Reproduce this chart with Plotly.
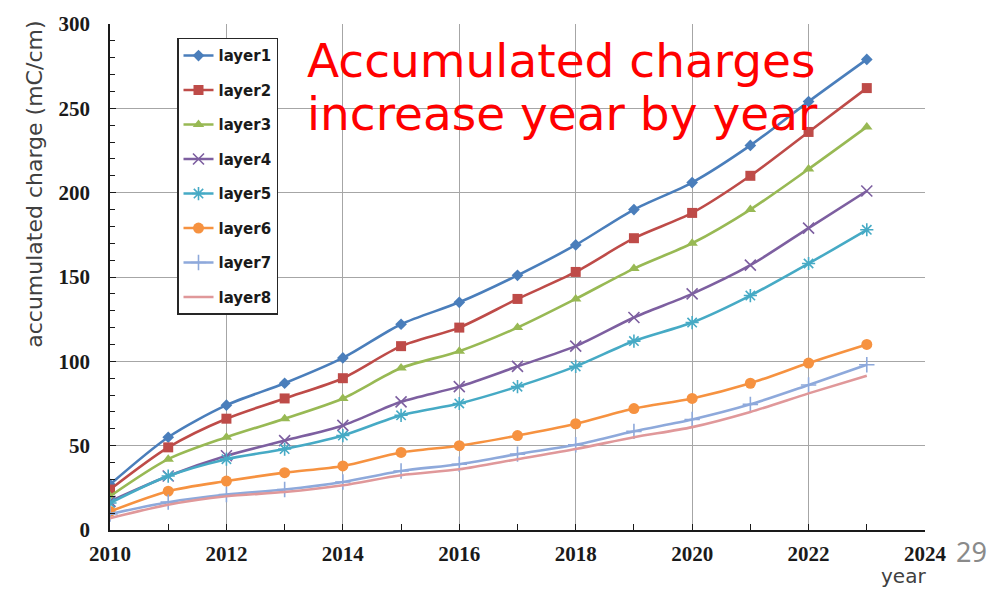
import plotly.graph_objects as go

# Accumulated charge per layer, by year
years = list(range(2010, 2024))

layer1 = [27, 55, 74, 87, 102, 122, 135, 151, 169, 190, 206, 228, 254, 279]
layer2 = [24, 49, 66, 78, 90, 109, 120, 137, 153, 173, 188, 210, 236, 262]
layer3 = [20, 42, 55, 66, 78, 96, 106, 120, 137, 155, 170, 190, 214, 239]
layer4 = [17, 32, 44, 53, 62, 76, 85, 97, 109, 126, 140, 157, 179, 201]
layer5 = [16, 32, 42, 48, 56, 68, 75, 85, 97, 112, 123, 139, 158, 178]
layer6 = [11, 23, 29, 34, 38, 46, 50, 56, 63, 72, 78, 87, 99, 110]
layer7 = [9.5, 16.5, 21, 24, 28.5, 35, 39, 45, 50.5, 58.5, 65.5, 74.5, 86, 98]
layer8 = [7, 15, 20, 22.5, 26.5, 32.5, 36, 42, 48, 55, 61, 70, 81, 91.5]

series_names = ["layer1", "layer2", "layer3", "layer4",
                "layer5", "layer6", "layer7", "layer8"]
series_values = [layer1, layer2, layer3, layer4,
                 layer5, layer6, layer7, layer8]

colors = ["#4A7EBB", "#BE4B48", "#98B954", "#7D5FA0",
          "#46AAC5", "#F69240", "#8EA9DB", "#E0989A"]
symbols = ["diamond", "square", "triangle-up", "x-thin-open",
           "asterisk-open", "circle", "cross-thin-open", None]
sizes = [9, 10, 10, 11, 11, 11, 11, 0]

x_tick_vals = list(range(2010, 2025, 2))
x_tick_text = [str(v) for v in x_tick_vals]

fig = go.Figure()
for name, vals, col, sym, sz in zip(series_names, series_values, colors, symbols, sizes):
    marker = dict(color=col, size=sz)
    if sym is not None:
        marker["symbol"] = sym
        if "open" in sym:
            marker["line"] = dict(color=col, width=1.6)
    fig.add_trace(go.Scatter(
        x=years, y=vals, name=name, legendgroup=name,
        mode="lines+markers" if sym is not None else "lines",
        line=dict(color=col, width=2.6, shape="spline", smoothing=0.8),
        marker=marker,
    ))

W, H = 1005, 589
ML, MR, MT, MB = 110, 80, 17, 59
PW, PH = W - ML - MR, H - MT - MB


def px_x(px):
    return (px - ML) / PW


def px_y(py):
    return (H - MB - py) / PH


tick_font = dict(family="Liberation Serif", size=21, color="#1a1a1a", weight="bold")

fig.update_layout(
    width=W, height=H,
    margin=dict(l=ML, r=MR, t=MT, b=MB),
    paper_bgcolor="white", plot_bgcolor="white",
    showlegend=True,
    legend=dict(
        x=px_x(177), y=px_y(31), xanchor="left", yanchor="top",
        bgcolor="white", bordercolor="#262626", borderwidth=1.5,
        font=dict(family="DejaVu Sans", size=15, color="#1a1a1a", weight="bold"),
        tracegroupgap=12,
    ),
    xaxis=dict(
        range=[2010, 2024], tickvals=x_tick_vals, ticktext=x_tick_text,
        showgrid=True, gridcolor="#A6A6A6", gridwidth=1,
        showline=True, linecolor="#1a1a1a", linewidth=1.5,
        ticks="inside", ticklen=6, tickcolor="#1a1a1a",
        minor=dict(dtick=1, tick0=2010, ticks="inside", ticklen=6,
                   tickcolor="#1a1a1a", showgrid=False),
        tickfont=tick_font, ticklabelstandoff=4,
        zeroline=False,
    ),
    yaxis=dict(
        range=[0, 300], dtick=50,
        showgrid=True, gridcolor="#A6A6A6", gridwidth=1,
        showline=True, linecolor="#1a1a1a", linewidth=1.5,
        ticks="inside", ticklen=6, tickcolor="#1a1a1a",
        minor=dict(dtick=10, ticks="inside", ticklen=5,
                   tickcolor="#1a1a1a", showgrid=False),
        tickfont=tick_font, ticklabelstandoff=14,
        zeroline=False,
    ),
)

# axis titles and slide text
fig.add_annotation(
    text="accumulated charge (mC/cm)", textangle=-90,
    x=px_x(35), y=px_y(180), xref="paper", yref="paper",
    xanchor="center", yanchor="middle", showarrow=False,
    font=dict(family="DejaVu Sans", size=22, color="#404040"),
)
fig.add_annotation(
    text="year", x=px_x(903), y=px_y(577), xref="paper", yref="paper",
    xanchor="center", yanchor="middle", showarrow=False,
    font=dict(family="DejaVu Sans", size=20, color="#404040"),
)
fig.add_annotation(
    text="29", x=px_x(972), y=px_y(552), xref="paper", yref="paper",
    xanchor="center", yanchor="middle", showarrow=False,
    font=dict(family="Noto Sans", size=27, color="#8a8a8a"),
)
fig.add_annotation(
    text="Accumulated charges", x=px_x(305), y=px_y(54), xref="paper", yref="paper",
    xanchor="left", yanchor="middle", showarrow=False,
    font=dict(family="DejaVu Sans", size=47, color="#FF0000"),
)
fig.add_annotation(
    text="increase year by year", x=px_x(305), y=px_y(108), xref="paper", yref="paper",
    xanchor="left", yanchor="middle", showarrow=False,
    font=dict(family="DejaVu Sans", size=47, color="#FF0000"),
)

fig.write_html("out.html")
